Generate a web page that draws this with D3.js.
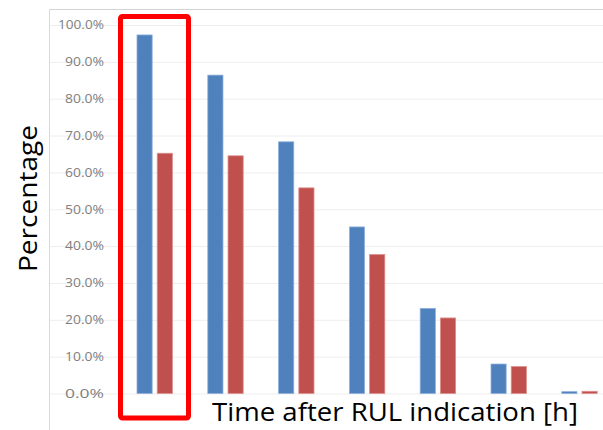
<!DOCTYPE html>
<html>
<head>
<meta charset="utf-8">
<script src="https://cdn.jsdelivr.net/npm/d3@7"></script>
<style>
    body { margin: 0; background: #fff; }
    #chart { width: 603px; height: 430px; }
    .tickLabel text { font-family: "Open Sans", sans-serif; font-size: 12px; fill: #808080; }
    .axisLabel { font-family: "Open Sans", sans-serif; fill: #000; }
</style>
</head>
<body>
<div id="chart"></div>
<script>
// chart values
const categories = ["1", "2", "3", "4", "5", "6", "7"];
const seriesNames = ["Series 1", "Series 2"];
const series1 = [0.973, 0.864, 0.683, 0.452, 0.231, 0.080, 0.005];
const series2 = [0.652, 0.645, 0.558, 0.377, 0.205, 0.073, 0.006];
const yTicks = [0, 0.1, 0.2, 0.3, 0.4, 0.5, 0.6, 0.7, 0.8, 0.9, 1.0];

const width = 603;
const height = 430;

const svg = d3.select("#chart")
    .append("svg")
    .attr("width", width)
    .attr("height", height);

const colorScale = d3.scaleOrdinal()
    .domain(seriesNames)
    .range(["#4f81bd", "#c0504d"]);

const strokeScale = d3.scaleOrdinal()
    .domain(seriesNames)
    .range(["#8eb0db", "#dd8f8d"]);

// scales
const yScale = d3.scaleLinear()
    .domain([0, 1])
    .range([393.5, 25]);

const xScale = d3.scaleBand()
    .domain(categories)
    .range([119.3, 614.9])
    .paddingInner(0.5)
    .paddingOuter(0.25);

const xInner = d3.scaleBand()
    .domain(seriesNames)
    .range([0, xScale.bandwidth()])
    .paddingInner(0.25);

// frame lines (top and left)
svg.append("line")
    .attr("x1", 49.5).attr("x2", width)
    .attr("y1", 9.5).attr("y2", 9.5)
    .attr("stroke", "#d4d4d4");

svg.append("line")
    .attr("x1", 49.5).attr("x2", 49.5)
    .attr("y1", 9.5).attr("y2", height)
    .attr("stroke", "#d9d9d9");

// gridlines
svg.append("g")
    .attr("transform", `translate(${width},0)`)
    .call(d3.axisLeft(yScale).tickValues(yTicks).tickSize(width - 50).tickFormat(""))
    .call(g => g.select(".domain").remove())
    .call(g => g.selectAll("line").attr("stroke", "#eeeeee"));

// tick labels
svg.append("g")
    .attr("class", "tickLabel")
    .attr("transform", "translate(104,0)")
    .call(d3.axisLeft(yScale).tickValues(yTicks).tickSize(0).tickPadding(0).tickFormat(d3.format(".1%")))
    .call(g => g.select(".domain").remove())
    .call(g => g.selectAll("text").attr("textLength", d => d === 1 ? 46 : 39).attr("lengthAdjust", "spacingAndGlyphs"));

// the bars
const table = categories.map((c, i) => ({ cat: c, values: [series1[i], series2[i]] }));

const groups = svg.selectAll(".group")
    .data(table)
    .enter()
    .append("g")
    .attr("class", "group")
    .attr("transform", d => `translate(${xScale(d.cat)},0)`);

groups.selectAll("rect")
    .data(d => d.values.map((v, j) => ({ name: seriesNames[j], value: v })))
    .enter()
    .append("rect")
    .attr("x", d => xInner(d.name))
    .attr("y", d => yScale(d.value))
    .attr("width", xInner.bandwidth())
    .attr("height", d => yScale(0) - yScale(d.value))
    .attr("fill", d => colorScale(d.name))
    .attr("stroke", d => strokeScale(d.name))
    .attr("stroke-width", 0.8);

// red highlight box round the first group
svg.append("rect")
    .attr("x", xScale(categories[0]) - 16.5)
    .attr("y", 16.5)
    .attr("width", 68)
    .attr("height", 401.5)
    .attr("rx", 2)
    .attr("fill", "none")
    .attr("stroke", "#ff0000")
    .attr("stroke-width", 5);

// axis titles
svg.append("text")
    .attr("class", "axisLabel")
    .attr("x", 212)
    .attr("y", 421)
    .attr("font-size", 26)
    .attr("textLength", 366)
    .attr("lengthAdjust", "spacingAndGlyphs")
    .text("Time after RUL indication [h]");

svg.append("text")
    .attr("class", "axisLabel")
    .attr("transform", "rotate(-90)")
    .attr("x", -272)
    .attr("y", 37)
    .attr("font-size", 26)
    .attr("textLength", 147)
    .attr("lengthAdjust", "spacingAndGlyphs")
    .text("Percentage");
</script>
</body>
</html>
